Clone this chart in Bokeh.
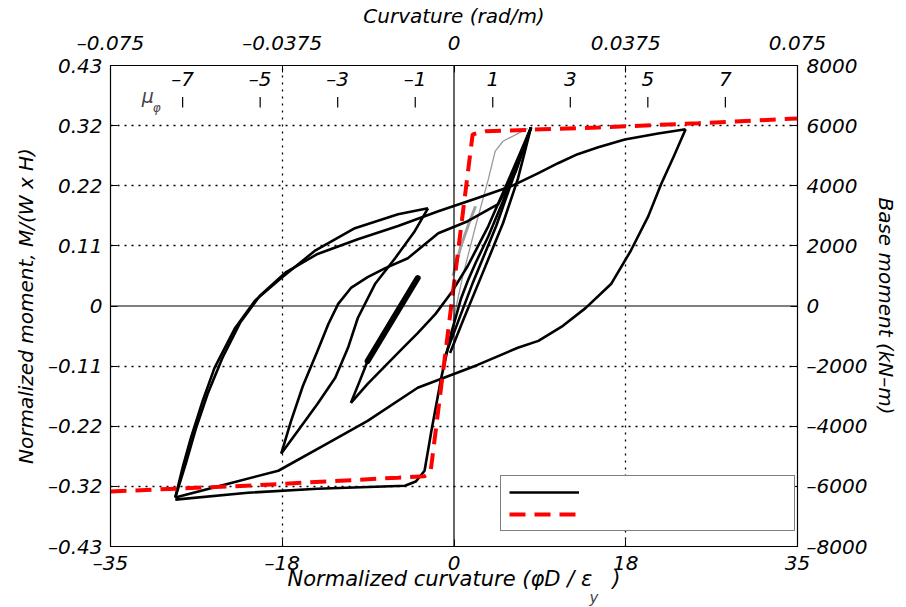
from bokeh.plotting import figure
from bokeh.models import (Range1d, LinearAxis, FixedTicker, Span, Label,
                          Legend, LegendItem, Title)
from bokeh.embed import file_html
from bokeh.resources import INLINE
from bokeh.core.properties import value

FONT = "DejaVu Sans"

# ---------------- axis ticks / labels ----------------
x_ticks = [-35, -17.5, 0, 17.5, 35]
x_tick_labels = ["–35", "–18", "0", "18", "35"]
curv_tick_labels = ["–0.075", "–0.0375", "0", "0.0375", "0.075"]
y_ticks = [-8000, -6000, -4000, -2000, 0, 2000, 4000, 6000, 8000]
y_norm_labels = ["–0.43", "–0.32", "–0.22", "–0.11", "0", "0.11", "0.22", "0.32", "0.43"]
y_base_labels = ["–8000", "–6000", "–4000", "–2000", "0", "2000", "4000", "6000", "8000"]
grid_x = [-17.5, 17.5]
grid_y = [-6000, -4000, -2000, 2000, 4000, 6000]

# curvature ductility marks
mu_values = [-7, -5, -3, -1, 1, 3, 5, 7]
mu_labels = ["–7", "–5", "–3", "–1", "1", "3", "5", "7"]
phi_y_norm = 3.95   # normalized curvature at mu = 1

# ---------------- measured response (x: phi D / eps_y, y: base moment kN-m) ----------------
big_lower_x = [-28.4, -23.0, -17.9, -12.8, -8.8, -3.7, 2.4, 6.5, 8.6, 11.1, 13.4, 16.0, 18.0, 19.8, 21.1, 22.4, 23.6]
big_lower_y = [-6370, -5910, -5480, -4550, -3820, -2720, -1960, -1390, -1160, -660, -70, 730, 1830, 2990, 4050, 4980, 5880]

big_upper_x = [23.6, 20.8, 17.4, 14.7, 12.6, 10.6, 8.6, 5.8, 2.4, -1.6, -5.7, -9.8, -13.9, -17.1, -19.8, -21.8, -23.6, -25.1, -26.3, -27.3, -28.4]
big_upper_y = [5880, 5740, 5540, 5280, 5050, 4750, 4420, 3980, 3590, 3150, 2660, 2220, 1730, 1130, 330, -560, -1730, -2920, -4080, -5210, -6370]

reload_x = [-28.4, -27.6, -26.8, -25.6, -24.4, -22.3, -20.3, -17.6, -14.2, -10.1, -5.7, -2.65]
reload_y = [-6370, -5310, -4380, -3150, -2060, -730, 170, 930, 1830, 2590, 3050, 3250]

to_m18_x = [-2.65, -4.0, -6.0, -8.05, -9.8, -10.8, -12.1, -13.9, -15.9, -17.6]
to_m18_y = [3250, 2490, 1590, 730, -400, -1390, -2390, -3250, -4150, -4910]

from_m18_x = [-17.6, -16.6, -15.4, -13.9, -12.8, -11.8, -10.5, -8.8, -7.0, -4.7, -1.6, 1.4, 4.5, 6.3, 7.85]
from_m18_y = [-4910, -3820, -2660, -1490, -600, 70, 600, 960, 1260, 1590, 2420, 2820, 3390, 4480, 5940]

to_m10_x = [-3.7, -5.0, -6.2, -7.5, -8.8, -9.6, -10.5]
to_m10_y = [930, 270, -330, -1060, -1830, -2490, -3220]

from_m10_x = [-10.5, -8.8, -7.0, -5.2, -3.7, -1.9, -0.3, 1.4, 3.5, 5.5, 7.85]
from_m10_y = [-3220, -2590, -1990, -1390, -900, -270, 430, 1330, 2660, 4150, 5940]

small_cycle_x = [-3.7, -8.8]
small_cycle_y = [930, -1830]

first_push_x = [7.85, 6.5, 5.0, 3.5, 2.2, 1.4, 0.7, -0.3, -1.3, -2.3, -3.0, -3.9, -5.0, -13.9, -21.0, -28.4]
first_push_y = [5940, 4810, 3490, 2320, 1430, 830, 230, -930, -2390, -4150, -5480, -5840, -5980, -6080, -6210, -6440]

elastic1_x = [-0.9, 1.9, 4.3, 6.2, 7.85]
elastic1_y = [-1660, 760, 2660, 4420, 5940]
elastic2_x = [7.85, 6.5, 5.0, 3.0, 0.9, -0.4]
elastic2_y = [5940, 4220, 2760, 1160, -500, -1560]

gray_x = [-0.1, 0.9, 2.2, 3.5, 4.2, 5.0, 7.5]
gray_y = [-500, 1000, 2660, 4220, 5150, 5480, 5910]
gray_thick_x = [-0.1, 0.7, 1.6, 2.2]
gray_thick_y = [1000, 1990, 2820, 3320]

# analytical (dashed red)
model_x = [-35, -20, -5.7, -3.0, -2.4, 1.9, 3.2, 14.7, 24.9, 35]
model_y = [-6170, -5960, -5710, -5660, -5550, 5710, 5810, 5940, 6080, 6240]

# ---------------- figure ----------------
p = figure(width=906, height=607, output_backend="svg", toolbar_location=None,
           x_range=Range1d(-35, 35), y_range=Range1d(-8000, 8000),
           min_border_left=110, min_border_right=109, min_border_top=64, min_border_bottom=61,
           background_fill_color="white", border_fill_color="white")
p.outline_line_color = "black"
p.outline_line_width = 1.2

FS = "20px"

def style_axis(ax):
    ax.major_label_text_font = FONT
    ax.major_label_text_font_style = "italic"
    ax.major_label_text_font_size = FS
    ax.major_label_text_color = "black"
    ax.axis_label_text_font = FONT
    ax.axis_label_text_font_style = "italic"
    ax.axis_label_text_font_size = FS
    ax.axis_label_text_color = "black"
    ax.major_tick_in = 7
    ax.major_tick_out = 0
    ax.minor_tick_in = 0
    ax.minor_tick_out = 0
    ax.axis_line_color = "black"
    ax.major_tick_line_color = "black"

# bottom axis
xb = p.xaxis[0]
xb.ticker = FixedTicker(ticks=x_ticks)
xb.major_label_overrides = {t: l for t, l in zip(x_ticks, x_tick_labels)}
style_axis(xb)
xb.major_label_standoff = 4
xb.axis_label = "Normalized curvature (φD / ε\u00a0\u00a0\u00a0)"
xb.axis_label_text_font_size = "21px"
xb.axis_label_standoff = -11

# left axis
yl = p.yaxis[0]
yl.ticker = FixedTicker(ticks=y_ticks)
yl.major_label_overrides = {t: l for t, l in zip(y_ticks, y_norm_labels)}
yl.axis_label = "Normalized moment, M/(W x H)"
style_axis(yl)
yl.major_label_standoff = 8
yl.axis_label_standoff = 7

# top axis
xt = LinearAxis(ticker=FixedTicker(ticks=x_ticks), axis_label="Curvature (rad/m)")
xt.major_label_overrides = {t: l for t, l in zip(x_ticks, curv_tick_labels)}
style_axis(xt)
xt.major_label_standoff = 11
xt.axis_label_standoff = 0
p.add_layout(xt, "above")

# right axis
yr = LinearAxis(ticker=FixedTicker(ticks=y_ticks), axis_label="Base moment (kN–m)")
yr.major_label_overrides = {t: l for t, l in zip(y_ticks, y_base_labels)}
style_axis(yr)
yr.major_label_standoff = 9
yr.axis_label_standoff = 4
p.add_layout(yr, "right")

# subscript of the bottom title
p.add_layout(Title(text="y", text_font=FONT, text_font_style="italic", text_font_size="15px",
                   align="left", offset=479, standoff=-14), "below")

# grids (dotted)
p.xgrid.ticker = FixedTicker(ticks=grid_x)
p.ygrid.ticker = FixedTicker(ticks=grid_y)
for g in (p.xgrid, p.ygrid):
    g.grid_line_color = "black"
    g.grid_line_dash = "2 5"
    g.grid_line_width = 1.3

p.add_layout(Span(location=0, dimension="height", line_color="black", line_width=1.2))
p.add_layout(Span(location=0, dimension="width", line_color="black", line_width=1.2))

# ductility marks
mu_x = [m * phi_y_norm for m in mu_values]
p.segment(x0=mu_x, y0=[6600] * len(mu_x), x1=mu_x, y1=[6950] * len(mu_x),
          line_color="black", line_width=1.2)
p.text(x=mu_x, y=[7560] * len(mu_x), text=mu_labels, text_font=value(FONT),
       text_font_style="italic", text_font_size=FS, text_align="center",
       text_baseline="middle", text_color="black")
p.add_layout(Label(x=-31.2, y=6980, text="μ", text_font=FONT, text_font_style="italic",
                   text_font_size="19px", text_align="center", text_baseline="middle"))
p.add_layout(Label(x=-30.3, y=6600, text="φ", text_font=FONT, text_font_style="italic",
                   text_font_size="12px", text_align="center", text_baseline="middle"))

# gray early cycles
p.line(gray_x, gray_y, line_color="#9a9a9a", line_width=1.3)
p.line(gray_thick_x, gray_thick_y, line_color="#a0a0a0", line_width=3)

# black measured response
xs = [big_lower_x, big_upper_x, reload_x, to_m18_x, from_m18_x, to_m10_x,
      from_m10_x, first_push_x, elastic1_x, elastic2_x]
ys = [big_lower_y, big_upper_y, reload_y, to_m18_y, from_m18_y, to_m10_y,
      from_m10_y, first_push_y, elastic1_y, elastic2_y]
black_r = p.multi_line(xs, ys, line_color="black", line_width=2.6, line_join="round")
p.line(small_cycle_x, small_cycle_y, line_color="black", line_width=6, line_cap="round")

# red analytical
red_r = p.line(model_x, model_y, line_color="#ff0000", line_width=4, line_dash="16 9")

legend = Legend(items=[LegendItem(label=" ", renderers=[black_r]),
                       LegendItem(label=" ", renderers=[red_r])],
                location=(390, 15), glyph_width=70, glyph_height=16, label_width=207,
                label_standoff=0, padding=8, spacing=6, margin=0,
                label_text_font_size="10px",
                border_line_color="black", border_line_width=1.5,
                background_fill_color="white", background_fill_alpha=1)
p.add_layout(legend)

open("out.html", "w").write(file_html(p, INLINE))
